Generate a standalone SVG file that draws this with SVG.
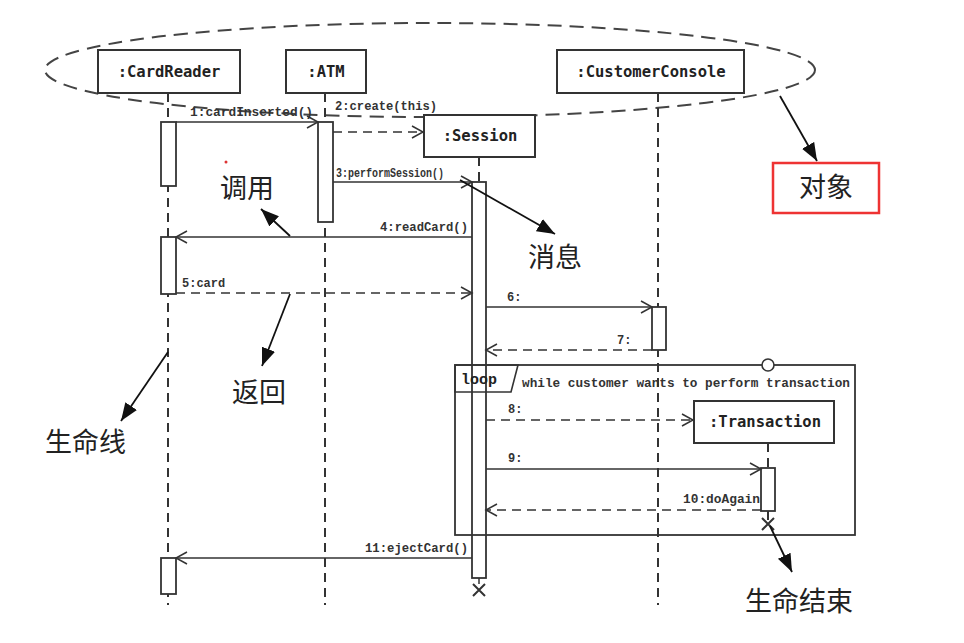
<svg xmlns="http://www.w3.org/2000/svg" width="964" height="643" viewBox="0 0 964 643">
<defs>
<marker id="open" markerUnits="userSpaceOnUse" markerWidth="14" markerHeight="14" refX="12" refY="7" orient="auto">
<path d="M1,1 L12,7 L1,13" fill="none" stroke="#333" stroke-width="1.5"/>
</marker>
<marker id="solid" markerUnits="userSpaceOnUse" markerWidth="20" markerHeight="16" refX="18" refY="8" orient="auto">
<path d="M0,1 L18,8 L0,15 Z" fill="#111"/>
</marker>
<style>
.box{fill:#fff;stroke:#333;stroke-width:2}
.act{fill:#fff;stroke:#333;stroke-width:1.8}
.life{stroke:#333;stroke-width:2;stroke-dasharray:9 6;fill:none}
.msg{stroke:#333;stroke-width:1.6;fill:none;marker-end:url(#open)}
.ret{stroke:#333;stroke-width:1.6;fill:none;stroke-dasharray:9 6;marker-end:url(#open)}
.ann{stroke:#111;stroke-width:1.8;fill:none;marker-end:url(#solid)}
.name{font-family:"DejaVu Sans Mono","Liberation Mono",monospace;font-weight:bold;font-size:15.5px;fill:#222;text-anchor:middle}
.lbl{font-family:"Liberation Mono",monospace;font-weight:bold;font-size:12px;fill:#333}
.cn{font-family:"Noto Sans CJK SC",sans-serif;font-size:27px;fill:#222}
</style>
</defs>
<rect width="964" height="643" fill="#fff"/>
<ellipse cx="430" cy="70" rx="385" ry="47" fill="none" stroke="#444" stroke-width="2" stroke-dasharray="14 8"/>
<circle cx="226" cy="162" r="1.5" fill="#d33"/>

<g id="lifelines">
<line class="life" x1="168" y1="93" x2="168" y2="605"/>
<line class="life" x1="325" y1="93" x2="325" y2="605"/>
<line class="life" x1="479" y1="157" x2="479" y2="182"/>
<line class="life" x1="658" y1="93" x2="658" y2="605"/>
<line class="life" x1="768" y1="443" x2="768" y2="468"/>
<line class="life" x1="768" y1="511" x2="768" y2="522"/>
</g>

<g id="CardReader"><rect class="box" x="98" y="50" width="142" height="43"/><text class="name" x="169" y="77">:CardReader</text></g>
<g id="ATM"><rect class="box" x="286" y="50" width="80" height="43"/><text class="name" x="326" y="77">:ATM</text></g>
<g id="CustomerConsole"><rect class="box" x="557" y="50" width="187" height="43"/><text class="name" x="651" y="77">:CustomerConsole</text></g>
<g id="Session"><rect class="box" x="424" y="115" width="111" height="42"/><text class="name" x="480" y="141">:Session</text></g>
<g id="Transaction"><rect class="box" x="694" y="401" width="140" height="42"/><text class="name" x="765" y="427">:Transaction</text></g>

<g id="activations">
<rect class="act" x="161" y="122" width="15" height="64"/>
<rect class="act" x="161" y="237" width="15" height="57"/>
<rect class="act" x="161" y="558" width="15" height="36"/>
<rect class="act" x="318" y="122" width="15" height="100"/>
<rect class="act" x="472" y="182" width="14" height="396"/>
<rect class="act" x="652" y="307" width="14" height="43"/>
<rect class="act" x="761" y="468" width="14" height="43"/>
<line x1="479" y1="578" x2="479" y2="584" stroke="#333" stroke-width="1.5"/>
<path d="M473,584 L485,596 M485,584 L473,596" stroke="#333" stroke-width="2"/>
<path d="M762,518 L774,530 M774,518 L762,530" stroke="#333" stroke-width="2"/>
</g>

<g id="loop">
<rect x="455" y="365" width="400" height="170" fill="none" stroke="#333" stroke-width="1.8"/>
<path d="M455,365 H518 L511,392 H455 Z" fill="none" stroke="#333" stroke-width="1.6"/>
<text x="461" y="384" style="font-family:'Liberation Mono',monospace;font-weight:bold;font-size:15px;fill:#222">loop</text>
<text class="lbl" x="522" y="387" textLength="328" lengthAdjust="spacingAndGlyphs">while customer wants to perform transaction</text>
<circle cx="768" cy="365" r="6" fill="#fff" stroke="#333" stroke-width="1.6"/>
</g>

<g id="connectors">
<line class="msg" x1="176" y1="122" x2="318" y2="122"/>
<text class="lbl" x="190" y="116" textLength="123" lengthAdjust="spacingAndGlyphs">1:cardInserted()</text>
<line class="ret" x1="333" y1="132" x2="423" y2="132"/>
<text class="lbl" x="335" y="110" textLength="102" lengthAdjust="spacingAndGlyphs">2:create(this)</text>
<line class="msg" x1="333" y1="182" x2="472" y2="182"/>
<text class="lbl" x="336" y="177" textLength="108" lengthAdjust="spacingAndGlyphs">3:performSession()</text>
<line class="msg" x1="472" y1="237" x2="176" y2="237"/>
<text class="lbl" x="380" y="231" textLength="88" lengthAdjust="spacingAndGlyphs">4:readCard()</text>
<line class="ret" x1="176" y1="293" x2="472" y2="293"/>
<text class="lbl" x="182" y="287">5:card</text>
<line class="msg" x1="486" y1="307" x2="652" y2="307"/>
<text class="lbl" x="507" y="301">6:</text>
<line class="ret" x1="652" y1="350" x2="486" y2="350"/>
<text class="lbl" x="617" y="344">7:</text>
<line class="ret" x1="486" y1="420" x2="693" y2="420"/>
<text class="lbl" x="508" y="413">8:</text>
<line class="msg" x1="486" y1="469" x2="761" y2="469"/>
<text class="lbl" x="508" y="462">9:</text>
<line class="ret" x1="761" y1="510" x2="486" y2="510"/>
<text class="lbl" x="683" y="503" textLength="77" lengthAdjust="spacingAndGlyphs">10:doAgain</text>
<line class="msg" x1="472" y1="558" x2="176" y2="558"/>
<text class="lbl" x="365" y="552" textLength="103" lengthAdjust="spacingAndGlyphs">11:ejectCard()</text>
</g>

<g id="annotations">
<line class="ann" x1="290" y1="236" x2="261" y2="209"/>
<text class="cn" x="220" y="198">调用</text>
<line class="ann" x1="460" y1="180" x2="555" y2="234"/>
<text class="cn" x="528" y="267">消息</text>
<line class="ann" x1="290" y1="294" x2="262" y2="366"/>
<text class="cn" x="232" y="402">返回</text>
<line class="ann" x1="168" y1="352" x2="121" y2="421"/>
<text class="cn" x="45" y="452">生命线</text>
<line class="ann" x1="780" y1="96" x2="817" y2="161"/>
<rect x="773" y="163" width="106" height="50" fill="#fff" stroke="#e33" stroke-width="2.5"/>
<text class="cn" x="826" y="197" text-anchor="middle">对象</text>
<line class="ann" x1="770" y1="526" x2="792" y2="572"/>
<text class="cn" x="745" y="611">生命结束</text>
</g>
</svg>
